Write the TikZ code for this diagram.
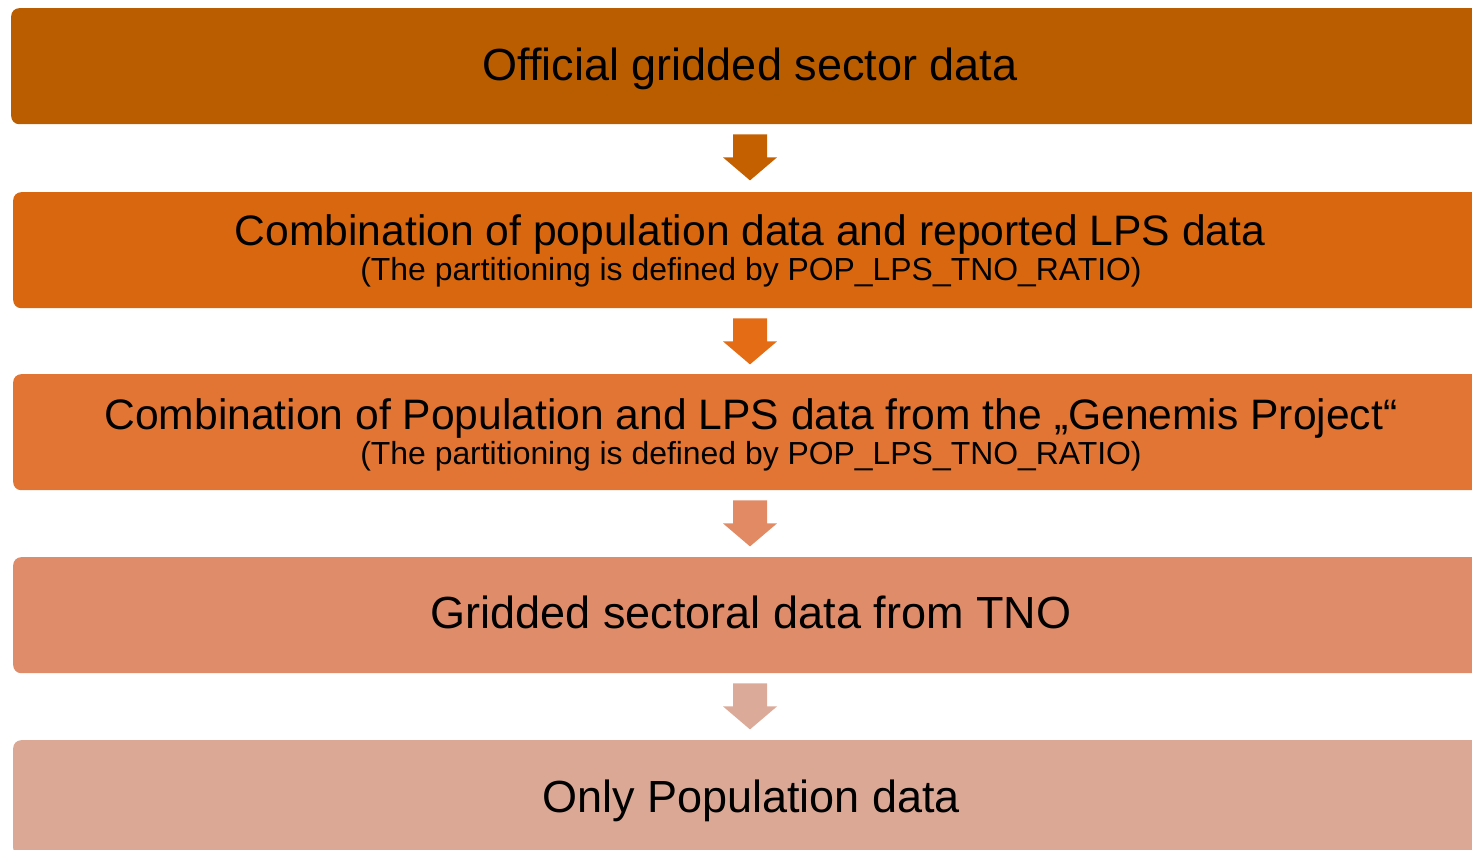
\documentclass[tikz,border=0pt]{standalone}
\usepackage{fontspec}
\setmainfont{Liberation Sans}
\usetikzlibrary{calc}
\definecolor{bxA}{RGB}{186,92,0}
\definecolor{bxB}{RGB}{217,103,16}
\definecolor{bxC}{RGB}{226,117,52}
\definecolor{bxD}{RGB}{222,140,106}
\definecolor{bxE}{RGB}{220,168,150}
\definecolor{arA}{RGB}{197,96,0}
\definecolor{arB}{RGB}{228,108,20}
\definecolor{arC}{RGB}{225,138,100}
\definecolor{arD}{RGB}{220,170,152}
\tikzset{
  box/.style={rounded corners=8pt, minimum width=1478pt, minimum height=116pt, inner sep=0pt, anchor=north west, draw=none},
  bigtxt/.style={anchor=base, inner sep=0pt, font=\fontsize{45}{54}\selectfont},
  midtxt/.style={anchor=base, inner sep=0pt, font=\fontsize{42.6}{50}\selectfont},
  smalltxt/.style={anchor=base, inner sep=0pt, font=\fontsize{31.9}{38}\selectfont}
}
\newcommand\blockdown[2]{%
  \fill[#2] ($(#1.south -| mid)+(-17,10)$) -- ++(34,0) -- ++(0,23) -- ++(10,0) -- ++(-27,23) -- ++(-27,-23) -- ++(10,0) -- cycle;}
\begin{document}
\begin{tikzpicture}[x=1pt,y=-1pt]
\useasboundingbox (0,0) rectangle (1472,850);
\clip (0,0) rectangle (1472,850);
\coordinate (mid) at (750,0);
\node[box, fill=bxA] (b1) at (11,8) {};
\node[box, fill=bxB] (b2) at (13,192) {};
\node[box, fill=bxC] (b3) at (13,374) {};
\node[box, fill=bxD] (b4) at (13,557) {};
\node[box, fill=bxE] (b5) at (13,740) {};
\node[bigtxt] (t1) at (750,81) {Official gridded sector data};
\node[midtxt] (t2) at (750,246) {Combination of population data and reported LPS data};
\node[smalltxt] (s2) at (751,281) {(The partitioning is defined by POP\_LPS\_TNO\_RATIO)};
\node[midtxt] (t3) at (751,429) {Combination of Population and LPS data from the „Genemis Project“};
\node[smalltxt] (s3) at (751,464) {(The partitioning is defined by POP\_LPS\_TNO\_RATIO)};
\node[bigtxt] (t4) at (751,628) {Gridded sectoral data from TNO};
\node[bigtxt] (t5) at (751,812) {Only Population data};
\blockdown{b1}{arA}
\blockdown{b2}{arB}
\blockdown{b3}{arC}
\blockdown{b4}{arD}
\end{tikzpicture}
\end{document}
